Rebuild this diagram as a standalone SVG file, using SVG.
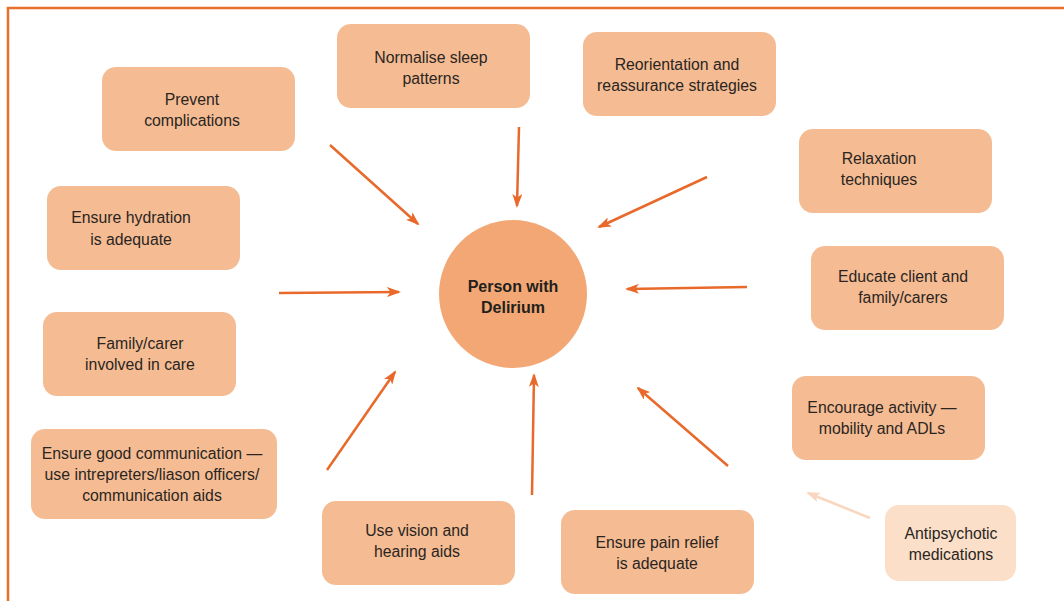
<svg xmlns="http://www.w3.org/2000/svg" width="1064" height="601" viewBox="0 0 1064 601">
  <style>
    .box { fill: #F5BC93; }
    .box-light { fill: #FBDFC8; }
    .lbl { font-family: "Liberation Sans", Arial, sans-serif; font-size: 15.8px; fill: #2a2522; text-anchor: middle; }
    .hub { font-family: "Liberation Sans", Arial, sans-serif; font-size: 16px; font-weight: bold; fill: #231f1c; text-anchor: middle; }
    .arrow { stroke: #E8692A; stroke-width: 2.5; fill: none; marker-end: url(#head); }
    .arrow-light { stroke: #F9D6BE; stroke-width: 2.5; fill: none; marker-end: url(#head-light); }
  </style>
  <defs>
    <marker id="head" viewBox="0 0 14 10" refX="12" refY="5" markerWidth="14" markerHeight="10" markerUnits="userSpaceOnUse" orient="auto">
      <path d="M0,0 L14,5 L0,10 L3.5,5 z" fill="#E8692A"/>
    </marker>
    <marker id="head-light" viewBox="0 0 14 10" refX="12" refY="5" markerWidth="14" markerHeight="10" markerUnits="userSpaceOnUse" orient="auto">
      <path d="M0,0 L14,5 L0,10 L3.5,5 z" fill="#F9D6BE"/>
    </marker>
  </defs>

  <rect width="1064" height="601" fill="#ffffff"/>
  <!-- frame: top and left rules -->
  <path d="M8,601 L8,8 L1064,8" fill="none" stroke="#E8702A" stroke-width="2.5"/>

  <!-- connectors -->
  <g id="connectors">
    <line class="arrow" x1="330" y1="145" x2="418" y2="224"/>
    <line class="arrow" x1="519" y1="127" x2="517" y2="206"/>
    <line class="arrow" x1="707" y1="177" x2="599" y2="227"/>
    <line class="arrow" x1="747" y1="287" x2="627" y2="289"/>
    <line class="arrow" x1="728" y1="466" x2="638" y2="388"/>
    <line class="arrow" x1="532" y1="495" x2="534" y2="375"/>
    <line class="arrow" x1="327" y1="470" x2="395" y2="372"/>
    <line class="arrow" x1="279" y1="293" x2="399" y2="292"/>
    <line class="arrow-light" x1="870" y1="518" x2="808" y2="493"/>
  </g>

  <!-- central node -->
  <g id="person-with-delirium">
    <circle cx="513" cy="294" r="74" fill="#F2A774"/>
    <text class="hub" x="513" y="292">Person with</text>
    <text class="hub" x="513" y="313">Delirium</text>
  </g>

  <g id="prevent-complications">
    <rect class="box" x="102" y="67" width="193" height="84" rx="14"/>
    <text class="lbl" x="192" y="105">Prevent</text>
    <text class="lbl" x="192" y="126">complications</text>
  </g>

  <g id="normalise-sleep">
    <rect class="box" x="337" y="24" width="193" height="84" rx="14"/>
    <text class="lbl" x="431" y="63">Normalise sleep</text>
    <text class="lbl" x="431" y="84">patterns</text>
  </g>

  <g id="reorientation">
    <rect class="box" x="583" y="32" width="193" height="84" rx="14"/>
    <text class="lbl" x="677" y="70">Reorientation and</text>
    <text class="lbl" x="677" y="91">reassurance strategies</text>
  </g>

  <g id="relaxation">
    <rect class="box" x="799" y="129" width="193" height="84" rx="14"/>
    <text class="lbl" x="879" y="164">Relaxation</text>
    <text class="lbl" x="879" y="185">techniques</text>
  </g>

  <g id="educate">
    <rect class="box" x="811" y="246" width="193" height="84" rx="14"/>
    <text class="lbl" x="903" y="282">Educate client and</text>
    <text class="lbl" x="903" y="303">family/carers</text>
  </g>

  <g id="encourage-activity">
    <rect class="box" x="792" y="376" width="193" height="84" rx="14"/>
    <text class="lbl" x="882" y="413">Encourage activity —</text>
    <text class="lbl" x="882" y="434">mobility and ADLs</text>
  </g>

  <g id="antipsychotic">
    <rect class="box-light" x="885" y="505" width="131" height="76" rx="14"/>
    <text class="lbl" x="951" y="539">Antipsychotic</text>
    <text class="lbl" x="951" y="560">medications</text>
  </g>

  <g id="pain-relief">
    <rect class="box" x="561" y="510" width="193" height="84" rx="14"/>
    <text class="lbl" x="657" y="548">Ensure pain relief</text>
    <text class="lbl" x="657" y="569">is adequate</text>
  </g>

  <g id="vision-hearing">
    <rect class="box" x="322" y="501" width="193" height="84" rx="14"/>
    <text class="lbl" x="417" y="536">Use vision and</text>
    <text class="lbl" x="417" y="557">hearing aids</text>
  </g>

  <g id="communication">
    <rect class="box" x="31" y="429" width="246" height="90" rx="14"/>
    <text class="lbl" x="152" y="459">Ensure good communication —</text>
    <text class="lbl" x="152" y="480">use intrepreters/liason officers/</text>
    <text class="lbl" x="152" y="501">communication aids</text>
  </g>

  <g id="family-carer">
    <rect class="box" x="43" y="312" width="193" height="84" rx="14"/>
    <text class="lbl" x="140" y="349">Family/carer</text>
    <text class="lbl" x="140" y="370">involved in care</text>
  </g>

  <g id="hydration">
    <rect class="box" x="47" y="186" width="193" height="84" rx="14"/>
    <text class="lbl" x="131" y="223">Ensure hydration</text>
    <text class="lbl" x="131" y="245">is adequate</text>
  </g>
</svg>
